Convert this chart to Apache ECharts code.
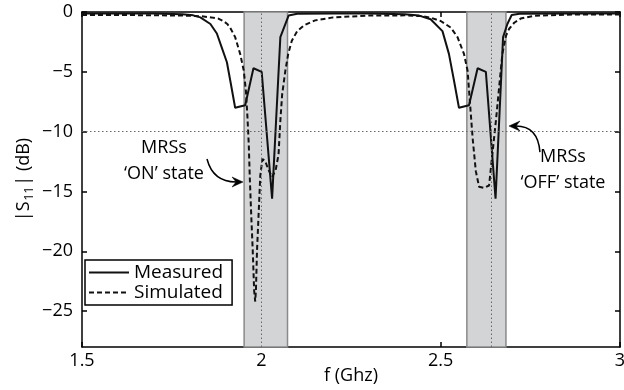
<!DOCTYPE html>
<html><head><meta charset="utf-8">
<script src="https://cdn.jsdelivr.net/npm/echarts@6/dist/echarts.min.js"></script>
<style>html,body{margin:0;padding:0;background:#fff}#c{width:624px;height:390px}</style>
</head><body><div id="c"></div>
<script>
// ---------- data ----------
const measuredFreq = [1.50,1.60,1.70,1.78,1.81,1.83,1.858,1.876,1.890,1.904,1.915,1.927,1.955,1.978,2.001,2.030,2.053,2.076,2.10,2.20,2.30,2.40,2.44,2.472,2.505,2.523,2.537,2.551,2.579,2.603,2.626,2.653,2.674,2.686,2.698,2.72,2.85,3.00];
const measuredDb   = [-0.12,-0.12,-0.13,-0.18,-0.28,-0.45,-1.0,-1.8,-3.0,-4.2,-6.0,-8.0,-7.8,-4.7,-5.0,-15.6,-2.1,-0.3,-0.15,-0.12,-0.12,-0.18,-0.3,-0.6,-1.6,-3.5,-5.7,-8.0,-7.8,-4.7,-5.0,-15.6,-2.1,-1.0,-0.25,-0.15,-0.12,-0.12];
const simulatedFreq = [1.50,1.60,1.70,1.78,1.83,1.86,1.88,1.894,1.905,1.913,1.927,1.941,1.951,1.957,1.961,1.965,1.968,1.972,1.976,1.980,1.983,1.985,1.988,1.993,1.997,2.003,2.010,2.020,2.030,2.040,2.048,2.053,2.058,2.067,2.075,2.085,2.10,2.12,2.15,2.20,2.30,2.40,2.45,2.475,2.500,2.528,2.547,2.565,2.575,2.582,2.589,2.598,2.607,2.621,2.635,2.644,2.654,2.663,2.672,2.682,2.691,2.705,2.723,2.76,2.85,3.00];
const simulatedDb   = [-0.25,-0.25,-0.27,-0.3,-0.35,-0.45,-0.55,-0.75,-1.0,-1.3,-2.1,-3.5,-4.9,-6.6,-8.6,-11.1,-14.0,-17.1,-19.9,-23.3,-24.2,-23.2,-19.9,-16.5,-13.7,-12.3,-12.4,-13.2,-13.8,-13.2,-11.9,-9.1,-6.9,-4.9,-3.5,-2.4,-1.6,-1.1,-0.7,-0.45,-0.3,-0.28,-0.35,-0.5,-0.75,-1.3,-2.1,-3.5,-4.9,-7.7,-10.5,-13.3,-14.6,-14.7,-14.5,-11.9,-9.1,-6.3,-3.5,-2.0,-1.4,-0.9,-0.55,-0.32,-0.22,-0.2];
const seriesNames = ['Measured','Simulated'];
const bandStart = [1.952, 2.573];
const bandEnd   = [2.073, 2.682];
const centerFreqs = [2.0, 2.641];
const thresholdDb = [-10];
const xTicks = [1.5, 2, 2.5, 3];
const yTicks = [0,-5,-10,-15,-20,-25];
const noteTexts = ['MRSs\n\u2018ON\u2019 state', 'MRSs\n\u2018OFF\u2019 state'];
const noteFreq = [1.7286, 2.841];
const noteDb = [-12.46, -13.21];

// ---------- chart ----------
const FONT = "'Open Sans', sans-serif";
const zip = (a,b) => a.map((v,i)=>[v,b[i]]);
const fmt = v => (v < 0 ? '\u2212' + String(-v) : String(v));
const axisLine = {show:true,onZero:false,lineStyle:{color:'#000',width:1.5}};
const tick = {show:true,inside:true,length:5,lineStyle:{color:'#000',width:1.5}};

const chart = echarts.init(document.getElementById('c'), null, {renderer:'canvas'});
const option = {
  animation:false,
  backgroundColor:'#fff',
  textStyle:{fontFamily:FONT,color:'#000'},
  grid:{left:82,right:4,top:12,bottom:43,containLabel:false,outerBoundsMode:'none'},
  legend:{
    data:seriesNames, orient:'vertical', left:85, top:260,
    itemWidth:40, itemHeight:12, itemGap:1,
    itemStyle:{opacity:0},
    backgroundColor:'#fff', borderColor:'#000', borderWidth:1.5, borderRadius:0,
    padding:[3,9,3,3],
    textStyle:{fontSize:19,fontFamily:FONT,color:'#000'}
  },
  xAxis:[
    {type:'value',min:xTicks[0],max:xTicks[xTicks.length-1],interval:0.5,position:'bottom',
     axisLine:axisLine,axisTick:tick,splitLine:{show:false},
     axisLabel:{fontSize:18,color:'#000',margin:5,formatter:fmt,fontFamily:FONT},
     name:'f (Ghz)',nameLocation:'middle',nameGap:20,nameMoveOverlap:false,
     nameTextStyle:{fontSize:18,color:'#000',fontFamily:FONT,verticalAlign:'top'}},
    {type:'value',min:xTicks[0],max:xTicks[xTicks.length-1],interval:0.5,position:'top',
     axisLine:axisLine,axisTick:tick,splitLine:{show:false},axisLabel:{show:false}}
  ],
  yAxis:[
    {type:'value',min:-28,max:0,position:'left',
     axisLine:axisLine,axisTick:Object.assign({customValues:yTicks},tick),splitLine:{show:false},
     axisLabel:{customValues:yTicks,fontSize:18,color:'#000',margin:9,formatter:fmt,fontFamily:FONT},
     name:'|S{sub|11}| (dB)',nameLocation:'middle',nameGap:46,nameMoveOverlap:false,
     nameTextStyle:{fontSize:18,color:'#000',fontFamily:FONT,
       rich:{sub:{fontSize:12,fontFamily:FONT,color:'#000',verticalAlign:'bottom',padding:[13,1,0,1]}}}},
    {type:'value',min:-28,max:0,position:'right',
     axisLine:axisLine,axisTick:Object.assign({customValues:yTicks},tick),splitLine:{show:false},
     axisLabel:{show:false}}
  ],
  series:[
    {type:'line',name:'bands',data:[],z:1,silent:true,
     markArea:{silent:true,
       itemStyle:{color:'#d3d4d6',borderColor:'#8a8a8a',borderWidth:1.5},
       data:bandStart.map((s,i)=>[{xAxis:s},{xAxis:bandEnd[i]}])},
     markLine:{silent:true,symbol:'none',label:{show:false},
       lineStyle:{color:'#666',type:[1.5,2.5],width:1},
       data:centerFreqs.map(f=>({xAxis:f})).concat(thresholdDb.map(d=>({yAxis:d})))}
    },
    {type:'line',name:seriesNames[1],data:zip(simulatedFreq,simulatedDb),z:3,
     symbol:'none',lineStyle:{color:'#111',width:2,type:[5,3]},itemStyle:{color:'#111'}},
    {type:'line',name:seriesNames[0],data:zip(measuredFreq,measuredDb),z:4,
     symbol:'none',lineStyle:{color:'#111',width:2,type:'solid'},itemStyle:{color:'#111'}}
  ]
};
chart.setOption(option);

// annotations positioned through the axes' scales
function px(x,y){return chart.convertToPixel({xAxisIndex:0,yAxisIndex:0},[x,y]);}
const arrowDefs = [
  {start:[1.8485,-12.29], ctrl:[1.8652,-14.21], end:[1.949,-14.21]},
  {start:[2.7768,-11.71], ctrl:[2.7713,-9.53], end:[2.6904,-9.53]}
];
const graphics = [];
noteTexts.forEach((t,i)=>{
  const p = px(noteFreq[i], noteDb[i]);
  graphics.push({type:'text',x:p[0],y:p[1],z:10,
    style:{text:t,fill:'#000',font:'18px '+FONT,align:'center',verticalAlign:'middle',lineHeight:26}});
});
arrowDefs.forEach(a=>{
  const s = px(a.start[0],a.start[1]), c = px(a.ctrl[0],a.ctrl[1]), e = px(a.end[0],a.end[1]);
  let dx = e[0]-c[0], dy = e[1]-c[1]; const L = Math.hypot(dx,dy); dx/=L; dy/=L;
  const nx = -dy, ny = dx;
  const back = [e[0]-dx*11, e[1]-dy*11], notch = [e[0]-dx*7, e[1]-dy*7];
  graphics.push({type:'bezierCurve',z:10,
    shape:{x1:s[0],y1:s[1],x2:notch[0],y2:notch[1],cpx1:c[0],cpy1:c[1]},
    style:{stroke:'#000',lineWidth:1.5,fill:null}});
  graphics.push({type:'polygon',z:10,
    shape:{points:[e,[back[0]+nx*5,back[1]+ny*5],notch,[back[0]-nx*5,back[1]-ny*5]]},
    style:{fill:'#000',stroke:'#000',lineWidth:0.5}});
});
chart.setOption({graphic:graphics});
</script>
</body></html>
